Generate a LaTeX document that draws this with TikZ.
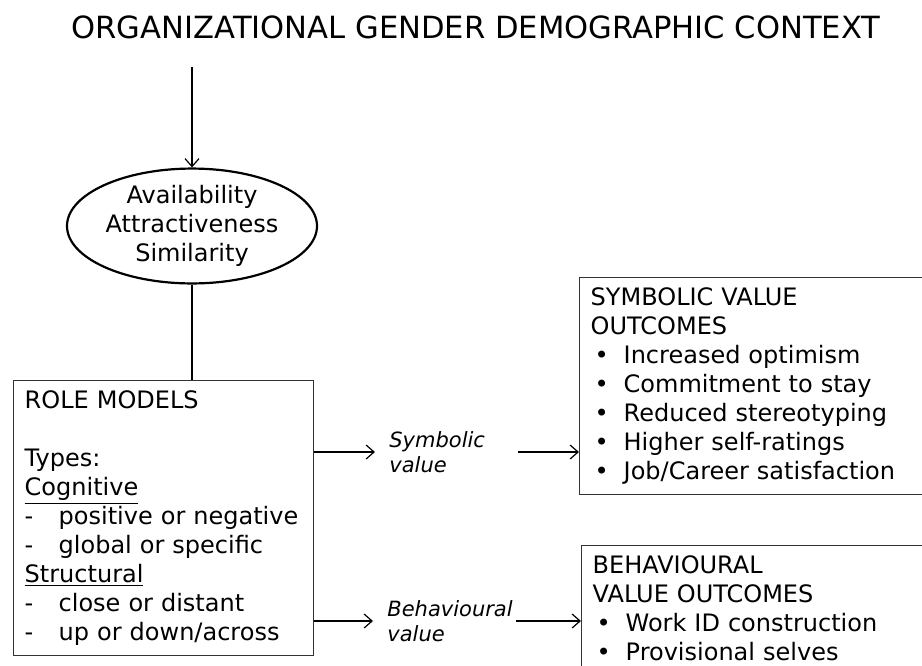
\documentclass[tikz,border=0pt]{standalone}
\usepackage{fontspec}
\setmainfont{DejaVu Sans}
\usetikzlibrary{arrows.meta,positioning,shapes.geometric}
\newcommand{\dashitem}[1]{\makebox[17pt][l]{-}#1}
\newcommand{\bulitem}[1]{\makebox[16.5pt][l]{\hspace{2pt}\textbullet}#1}

\begin{document}
\begin{tikzpicture}[x=0.5pt,y=-0.5pt,
  outbox/.style={draw=black!80,line width=0.7pt,anchor=north west,align=left,font=\fontsize{12}{14.5}\selectfont,inner xsep=5.5pt,inner ysep=5pt},
  factors/.style={draw,ellipse,line width=1.1pt,minimum width=125pt,minimum height=51pt,inner sep=0pt,align=center,font=\fontsize{12}{14.5}\selectfont},
  valuelbl/.style={anchor=west,inner sep=0pt,text width=64pt,align=left,font=\fontsize{10.5}{12.5}\selectfont\itshape},
  arr/.style={-{Straight Barb[length=4pt,width=7pt]},line width=0.6pt}]
  \useasboundingbox (0,0) rectangle (922,665);
  \clip (0,0) rectangle (922,665);
  % Context
  \node[anchor=base,font=\fontsize{15.3}{18}\selectfont] (ctx) at (476,38) {ORGANIZATIONAL GENDER DEMOGRAPHIC CONTEXT};
  \coordinate (ctxfoot) at (192,67);
  % Factors
  \node[factors] (attr) at (192,226) {Availability\\Attractiveness\\Similarity};
  \draw[arr] (ctxfoot) -- (attr.north);
  % Role models
  \node[outbox,text width=139pt,minimum height=137.5pt] (role) at (13,380) {ROLE MODELS\\[14.5pt]Types:\\\underline{Cognitive}\\\dashitem{positive or negative}\\\dashitem{global or specific}\\\underline{Structural}\\\dashitem{close or distant}\\\dashitem{up or down/across}};
  \draw[line width=0.6pt] (attr.south) -- (attr.south |- role.north);
  % Outcomes
  \node[outbox,text width=162pt,minimum height=107.5pt] (symb) at (579,277) {SYMBOLIC VALUE\\OUTCOMES\\\bulitem{Increased optimism}\\\bulitem{Commitment to stay}\\\bulitem{Reduced stereotyping}\\\bulitem{Higher self-ratings}\\\bulitem{Job/Career satisfaction}};
  \node[outbox,text width=162pt] (behav) at (581,545) {BEHAVIOURAL\\VALUE OUTCOMES\\\bulitem{Work ID construction}\\\bulitem{Provisional selves}};
  % Value paths
  \node[valuelbl] (symv) at (389,452) {Symbolic\\value};
  \node[valuelbl] (behv) at (387,621) {Behavioural\\value};
  \draw[arr,shorten >=7pt] (role.east |- symv.west) -- (symv.west);
  \draw[arr] (symv.east) -- (symv.east -| symb.west);
  \draw[arr,shorten >=7pt] (role.east |- behv.west) -- (behv.west);
  \draw[arr] (behv.east) -- (behv.east -| behav.west);
\end{tikzpicture}
\end{document}
